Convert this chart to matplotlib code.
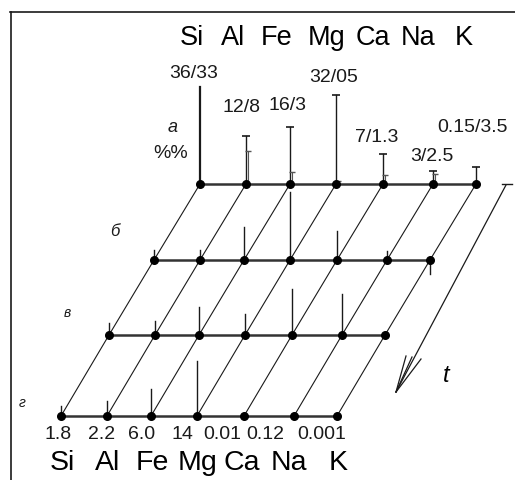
"""
Oblique element diagram: Si..K content per layer (a, б, в, г) along time axis t.
"""
import matplotlib.pyplot as plt

plt.rcParams['font.family'] = ['Liberation Sans', 'DejaVu Sans']

ELEMENTS = ["Si", "Al", "Fe", "Mg", "Ca", "Na", "K"]
ROWS = ["а", "б", "в", "г"]
TOP_VALUES = ["36/33", "12/8", "16/3", "32/05", "7/1.3", "3/2.5", "0.15/3.5"]
BOTTOM_VALUES = ["1.8", "2.2", "6.0", "14", "0.01", "0.12", "0.001"]

# bar lengths (drawing units, up = positive)
BARS_A = [97, 48, 57, 89, 30, 13, 17]
BARS_A2 = [0, 33, 12, 3, 9, 10, 0]
BARS_B = [10, 10, 33, 68, 29, 9, -14]
BARS_V = [12, 14, 28, 21, 46, 41, 0]
BARS_G = [10, 15, 27, 55, 0, 0, 0]

# layout of the oblique grid (pixel space)
COL_X = [200, 246, 290, 336, 383, 433, 476]
ROW_Y = [185, 261, 336, 417]
ROW_SHIFT = [0, -46, -91, -139]

INK = "#1a1a1a"

fig = plt.figure(figsize=(5.15, 4.81), dpi=100)
ax = fig.add_axes([0, 0, 1, 1])
ax.set_xlim(0, 515)
ax.set_ylim(481, 0)
ax.axis("off")

# frame (top + left only)
ax.plot([10, 515], [13, 13], color=INK, lw=1.2)
ax.plot([11, 11], [13, 481], color=INK, lw=1.2)

# slanted lines through each column
for c in range(len(ELEMENTS)):
    ax.plot([COL_X[c] + s for s in ROW_SHIFT], ROW_Y, color=INK, lw=0.8, zorder=2)

# horizontal rows with dots
for r in range(len(ROWS)):
    xs = [x + ROW_SHIFT[r] for x in COL_X]
    ax.plot(xs, [ROW_Y[r]] * len(xs), color="#333333", lw=1.8, zorder=3)
    ax.scatter(xs, [ROW_Y[r]] * len(xs), s=30, color="black", zorder=5)

# bars
for r, bars in enumerate([BARS_A, BARS_B, BARS_V, BARS_G]):
    xs = [x + ROW_SHIFT[r] for x in COL_X]
    for x, h in zip(xs, bars):
        if h == 0:
            continue
        lw = 1.6 if (r == 0 and x == xs[0]) else 1.0
        ax.plot([x, x], [ROW_Y[r], ROW_Y[r] - h], color=INK, lw=lw, zorder=4)

# caps on the top row
xa = COL_X
ax.plot(xa[1:], [ROW_Y[0] - h for h in BARS_A[1:]], ls="none", marker="_",
        ms=6, mew=1.2, color=INK, zorder=4)
for x, h in zip(xa, BARS_A2):
    if h == 0:
        continue
    ax.plot([x + 2, x + 2], [ROW_Y[0], ROW_Y[0] - h], color="#555555", lw=0.8, zorder=4)
    ax.plot([x + 2], [ROW_Y[0] - h], marker="_", ms=5, mew=1.0, color="#555555", zorder=4)

# value labels on the top row
TOP_POS = [(194, 73), (242, 108), (287, 105), (334, 77), (377, 138), (432, 157), (472, 128)]
for txt, (x, y) in zip(TOP_VALUES, TOP_POS):
    ax.text(x, y, txt, ha="center", va="center", fontsize=14, color=INK)

# element names, top and bottom
TOP_NAME_X = [192, 233, 277, 327, 373, 418, 464]
BOTTOM_NAME_X = [62, 108, 152, 197, 242, 289, 338]
for name, xt, xb in zip(ELEMENTS, TOP_NAME_X, BOTTOM_NAME_X):
    ax.text(xt, 45, name, ha="center", va="baseline", fontsize=19.5, color="black")
    ax.text(xb, 470, name, ha="center", va="baseline", fontsize=20.5, color="black")

# values under the bottom row
BOTTOM_VAL_X = [58, 102, 142, 182, 222, 265, 322]
for txt, x in zip(BOTTOM_VALUES, BOTTOM_VAL_X):
    ax.text(x, 435, txt, ha="center", va="center", fontsize=14, color=INK)

# row labels
ROW_LABEL_POS = [(173, 128), (115, 232), (67, 313), (22, 403)]
ROW_LABEL_SIZE = [13, 12, 10, 10]
for lab, (x, y), fs in zip(ROWS, ROW_LABEL_POS, ROW_LABEL_SIZE):
    ax.text(x, y, lab, ha="center", va="center", fontsize=fs, style="italic", color=INK)
ax.text(171, 154, "%%", ha="center", va="center", fontsize=14, color=INK)

# time axis t
ax.plot([502, 512], [185, 185], color=INK, lw=1.0)
ax.plot([506, 396], [186, 393], color=INK, lw=0.9)
for bx, by in [(406, 357), (412, 358), (421, 360)]:
    ax.plot([396, bx], [393, by], color=INK, lw=0.9)
ax.text(446, 376, "t", ha="center", va="center", fontsize=17, style="italic", color="black")

fig.savefig("out.png", dpi=100)
